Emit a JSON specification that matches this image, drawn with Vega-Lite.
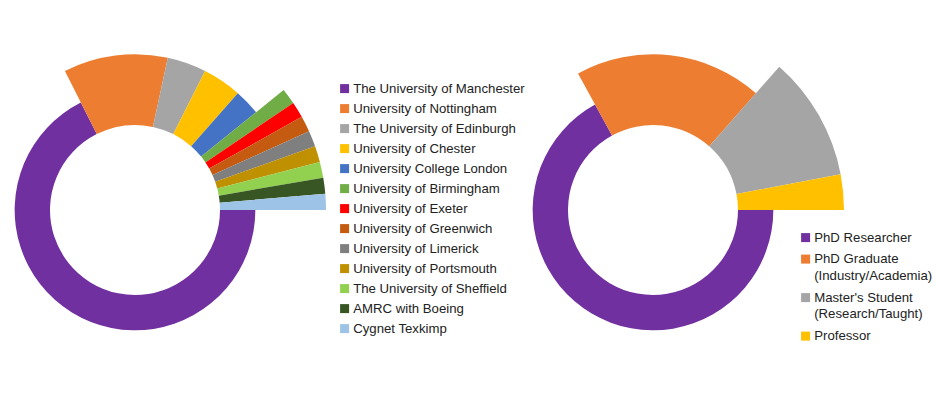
{
  "$schema": "https://vega.github.io/schema/vega-lite/v6.json",
  "background": "white",
  "padding": {"left": 0, "top": 20, "right": 0, "bottom": 0},
  "spacing": 220,
  "bounds": "flush",
  "resolve": {
    "scale": {"color": "independent", "theta": "independent", "radius": "independent"},
    "legend": {"color": "independent"}
  },
  "config": {
    "view": {"stroke": null},
    "legend": {
      "labelFont": "Liberation Sans",
      "labelFontSize": 13.2,
      "labelColor": "#222222",
      "labelLimit": 0,
      "labelOffset": 2,
      "labelBaseline": "top",
      "symbolType": "square",
      "symbolSize": 81,
      "symbolStrokeWidth": 0,
      "symbolOpacity": 1,
      "padding": 0,
      "title": null,
      "orient": "none"
    }
  },
  "hconcat": [
    {
      "width": 270,
      "height": 380,
      "data": {
        "values": [
          {"university": "The University of Manchester", "students": 50, "ring": 1, "rank": 1},
          {"university": "University of Nottingham", "students": 8, "ring": 2, "rank": 2},
          {"university": "The University of Edinburgh", "students": 3, "ring": 2, "rank": 3},
          {"university": "University of Chester", "students": 3, "ring": 2, "rank": 4},
          {"university": "University College London", "students": 2, "ring": 2, "rank": 5},
          {"university": "University of Birmingham", "students": 1, "ring": 3, "rank": 6},
          {"university": "University of Exeter", "students": 1, "ring": 3, "rank": 7},
          {"university": "University of Greenwich", "students": 1, "ring": 3, "rank": 8},
          {"university": "University of Limerick", "students": 1, "ring": 3, "rank": 9},
          {"university": "University of Portsmouth", "students": 1, "ring": 3, "rank": 10},
          {"university": "The University of Sheffield", "students": 1, "ring": 3, "rank": 11},
          {"university": "AMRC with Boeing", "students": 1, "ring": 3, "rank": 12},
          {"university": "Cygnet Texkimp", "students": 1, "ring": 3, "rank": 13}
        ]
      },
      "transform": [
        {"stack": "students", "sort": [{"field": "rank", "order": "ascending"}], "as": ["start", "end"]}
      ],
      "mark": {"type": "arc", "innerRadius": 85, "strokeWidth": 0},
      "encoding": {
        "theta": {"field": "start", "type": "quantitative", "scale": {"domain": [0, 74], "range": [1.5708, 7.854], "nice": false, "zero": true}},
        "theta2": {"field": "end"},
        "radius": {"field": "ring", "type": "quantitative", "scale": {"type": "linear", "domain": [0, 3], "range": [85, 191], "zero": false}},
        "color": {
          "field": "university",
          "type": "nominal",
          "scale": {
            "domain": ["The University of Manchester", "University of Nottingham", "The University of Edinburgh", "University of Chester", "University College London", "University of Birmingham", "University of Exeter", "University of Greenwich", "University of Limerick", "University of Portsmouth", "The University of Sheffield", "AMRC with Boeing", "Cygnet Texkimp"],
            "range": ["#7030A0", "#ED7D31", "#A5A5A5", "#FFC000", "#4472C4", "#70AD47", "#FF0000", "#C55A11", "#7F7F7F", "#BF9000", "#92D050", "#375623", "#9DC3E6"]
          },
          "legend": {
            "legendX": 338,
            "legendY": 62,
            "rowPadding": 6,
            "encode": {"labels": {"update": {"dy": {"value": -6}}}}
          }
        }
      }
    },
    {
      "width": 326,
      "height": 380,
      "data": {
        "values": [
          {"role": "PhD Researcher", "share": 67, "ring": 1, "rank": 1},
          {"role": "PhD Graduate (Industry/Academia)", "share": 19.5, "ring": 2, "rank": 2},
          {"role": "Master's Student (Research/Taught)", "share": 10.5, "ring": 3, "rank": 3},
          {"role": "Professor", "share": 3, "ring": 3, "rank": 4}
        ]
      },
      "transform": [
        {"stack": "share", "sort": [{"field": "rank", "order": "ascending"}], "as": ["start", "end"]}
      ],
      "mark": {"type": "arc", "innerRadius": 85, "strokeWidth": 0},
      "encoding": {
        "theta": {"field": "start", "type": "quantitative", "scale": {"domain": [0, 100], "range": [1.5708, 7.854], "nice": false, "zero": true}},
        "theta2": {"field": "end"},
        "radius": {"field": "ring", "type": "quantitative", "scale": {"type": "linear", "domain": [0, 3], "range": [85, 191], "zero": false}},
        "color": {
          "field": "role",
          "type": "nominal",
          "scale": {
            "domain": ["PhD Researcher", "PhD Graduate (Industry/Academia)", "Master's Student (Research/Taught)", "Professor"],
            "range": ["#7030A0", "#ED7D31", "#A5A5A5", "#FFC000"]
          },
          "legend": {
            "legendX": 309,
            "legendY": 211,
            "rowPadding": 7.5,
            "labelExpr": "split(replace(datum.label, ' (', '|('), '|')",
            "encode": {"labels": {"update": {"dy": {"value": -6}, "lineHeight": {"value": 16.75}}}}
          }
        }
      }
    }
  ]
}
